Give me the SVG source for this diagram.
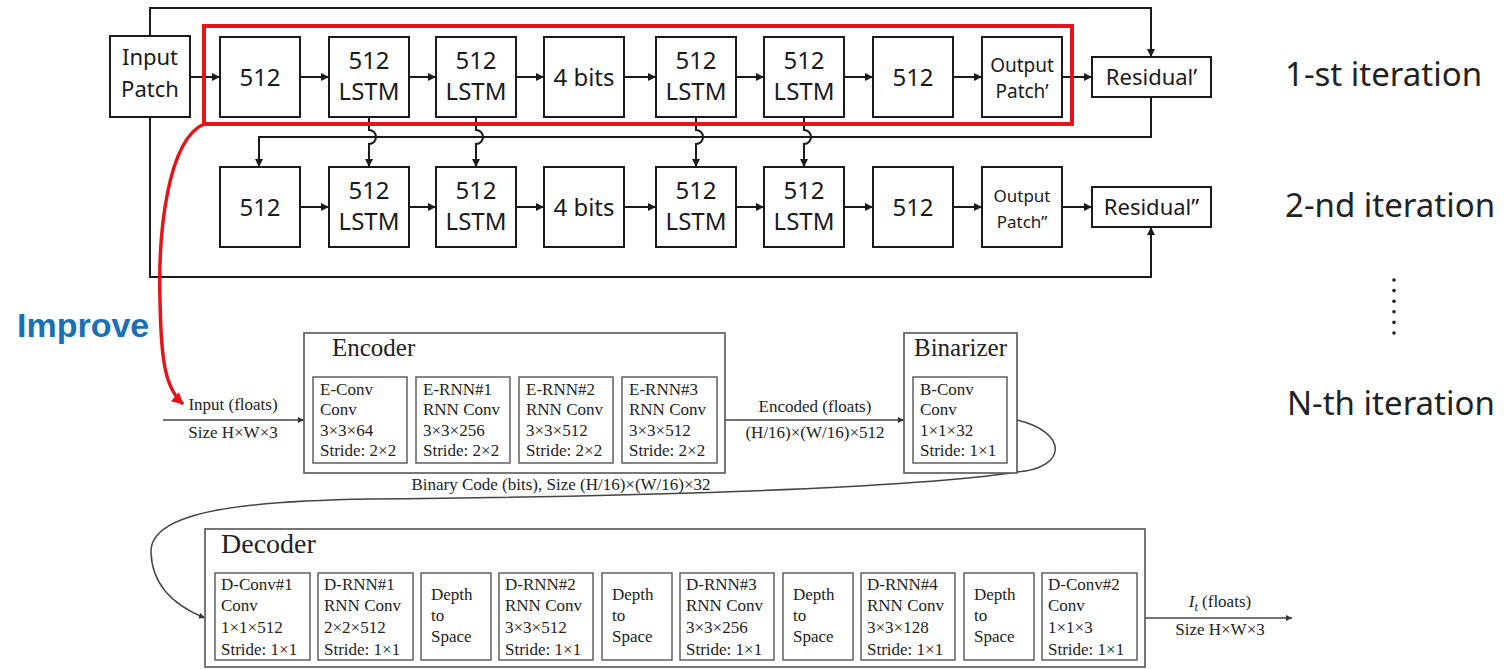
<svg xmlns="http://www.w3.org/2000/svg" width="1504" height="669" viewBox="0 0 1504 669">
<style>
.bx{fill:#fff;stroke:#1a1a1a;stroke-width:2}
.t{font-family:"Noto Sans","Open Sans",sans-serif;fill:#1a1a1a;text-anchor:middle}
.t24{font-size:24px}
.t22{font-size:22px}
.it{font-family:"Noto Sans","Open Sans",sans-serif;font-size:33px;fill:#222}
.ln{fill:none;stroke:#1a1a1a;stroke-width:2}
.gb{fill:#fff;stroke:#555;stroke-width:1.6}
.gi{fill:#fff;stroke:#555;stroke-width:1.4}
.s{font-family:"Liberation Serif","Times New Roman",serif;font-size:17px;fill:#222}
.sm{text-anchor:middle}
.ttl{font-family:"Liberation Serif","Times New Roman",serif;fill:#222}
.gl{fill:none;stroke:#444;stroke-width:1.5}
</style>
<defs>
<marker id="ah" viewBox="0 0 10 10" refX="10" refY="5" markerWidth="9" markerHeight="8" markerUnits="userSpaceOnUse" orient="auto"><path d="M0,0 L10,5 L0,10 z" fill="#1a1a1a"/></marker>
<marker id="ahs" viewBox="0 0 10 10" refX="10" refY="5" markerWidth="8" markerHeight="6" markerUnits="userSpaceOnUse" orient="auto"><path d="M0,0 L10,5 L0,10 z" fill="#333"/></marker>
<marker id="ahr" viewBox="0 0 10 10" refX="9" refY="5" markerWidth="14" markerHeight="12" markerUnits="userSpaceOnUse" orient="auto"><path d="M0,0 L10,5 L0,10 z" fill="#e3151a"/></marker>
</defs>

<g id="connectors">
<path class="ln" d="M150,36 V8 H1151 V57" marker-end="url(#ah)"/>
<path class="ln" d="M150,117 V277 H1151 V227" marker-end="url(#ah)"/>
<path class="ln" d="M1151,97 V137 H259 V167" marker-end="url(#ah)"/>
<path class="ln" d="M369,117 V130 A7,7 0 0 1 369,144 V167" marker-end="url(#ah)"/>
<path class="ln" d="M476,117 V130 A7,7 0 0 1 476,144 V167" marker-end="url(#ah)"/>
<path class="ln" d="M696,117 V130 A7,7 0 0 1 696,144 V167" marker-end="url(#ah)"/>
<path class="ln" d="M804,117 V130 A7,7 0 0 1 804,144 V167" marker-end="url(#ah)"/>
<path class="ln" d="M190,77 H220" marker-end="url(#ah)"/>
<path class="ln" d="M300,77 H329" marker-end="url(#ah)"/>
<path class="ln" d="M409,77 H436" marker-end="url(#ah)"/>
<path class="ln" d="M516,77 H544" marker-end="url(#ah)"/>
<path class="ln" d="M624,77 H656" marker-end="url(#ah)"/>
<path class="ln" d="M736,77 H764" marker-end="url(#ah)"/>
<path class="ln" d="M844,77 H873" marker-end="url(#ah)"/>
<path class="ln" d="M953,77 H982" marker-end="url(#ah)"/>
<path class="ln" d="M1062,77 H1092" marker-end="url(#ah)"/>
<path class="ln" d="M300,207 H329" marker-end="url(#ah)"/>
<path class="ln" d="M409,207 H436" marker-end="url(#ah)"/>
<path class="ln" d="M516,207 H544" marker-end="url(#ah)"/>
<path class="ln" d="M624,207 H656" marker-end="url(#ah)"/>
<path class="ln" d="M736,207 H764" marker-end="url(#ah)"/>
<path class="ln" d="M844,207 H873" marker-end="url(#ah)"/>
<path class="ln" d="M953,207 H982" marker-end="url(#ah)"/>
<path class="ln" d="M1062,207 H1092" marker-end="url(#ah)"/>
<path d="M204,124 C168,140 158,230 160,300 C161,360 165,388 183,404" fill="none" stroke="#e3151a" stroke-width="3.5" marker-end="url(#ahr)"/>
<path class="gl" d="M163,420 H304" marker-end="url(#ahs)"/>
<path class="gl" d="M725,420 H904" marker-end="url(#ahs)"/>
<path class="gl" d="M1017,420 C1068,432 1068,468 1017,472 C900,490 600,497 370,499 C250,501 150,510 151,552 C152,590 180,608 205,618" marker-end="url(#ahs)"/>
<path class="gl" d="M1145,618 H1292" marker-end="url(#ahs)"/>
</g>

<g id="input-patch"><rect class="bx" x="110" y="36" width="80" height="81"/><text class="t t22" x="150" y="65">Input</text><text class="t t22" x="150" y="97">Patch</text></g>

<g id="r1-fc1"><rect class="bx" x="220" y="37" width="80" height="80"/><text class="t t24" x="260" y="86">512</text></g>
<g id="r1-lstm1"><rect class="bx" x="329" y="37" width="80" height="80"/><text class="t t24" x="369" y="69">512</text><text class="t t24" x="369" y="100">LSTM</text></g>
<g id="r1-lstm2"><rect class="bx" x="436" y="37" width="80" height="80"/><text class="t t24" x="476" y="69">512</text><text class="t t24" x="476" y="100">LSTM</text></g>
<g id="r1-bits"><rect class="bx" x="544" y="37" width="80" height="80"/><text class="t t24" x="584" y="86">4 bits</text></g>
<g id="r1-lstm3"><rect class="bx" x="656" y="37" width="80" height="80"/><text class="t t24" x="696" y="69">512</text><text class="t t24" x="696" y="100">LSTM</text></g>
<g id="r1-lstm4"><rect class="bx" x="764" y="37" width="80" height="80"/><text class="t t24" x="804" y="69">512</text><text class="t t24" x="804" y="100">LSTM</text></g>
<g id="r1-fc2"><rect class="bx" x="873" y="37" width="80" height="80"/><text class="t t24" x="913" y="86">512</text></g>
<g id="r1-out"><rect class="bx" x="982" y="37" width="80" height="80"/><text class="t" font-size="19" x="1022" y="72">Output</text><text class="t" font-size="19" x="1022" y="98">Patch’</text></g>
<g id="r1-res"><rect class="bx" x="1092" y="57" width="119" height="40"/><text class="t t22" x="1151.5" y="85">Residual’</text></g>

<g id="r2-fc1"><rect class="bx" x="220" y="167" width="80" height="80"/><text class="t t24" x="260" y="216">512</text></g>
<g id="r2-lstm1"><rect class="bx" x="329" y="167" width="80" height="80"/><text class="t t24" x="369" y="199">512</text><text class="t t24" x="369" y="230">LSTM</text></g>
<g id="r2-lstm2"><rect class="bx" x="436" y="167" width="80" height="80"/><text class="t t24" x="476" y="199">512</text><text class="t t24" x="476" y="230">LSTM</text></g>
<g id="r2-bits"><rect class="bx" x="544" y="167" width="80" height="80"/><text class="t t24" x="584" y="216">4 bits</text></g>
<g id="r2-lstm3"><rect class="bx" x="656" y="167" width="80" height="80"/><text class="t t24" x="696" y="199">512</text><text class="t t24" x="696" y="230">LSTM</text></g>
<g id="r2-lstm4"><rect class="bx" x="764" y="167" width="80" height="80"/><text class="t t24" x="804" y="199">512</text><text class="t t24" x="804" y="230">LSTM</text></g>
<g id="r2-fc2"><rect class="bx" x="873" y="167" width="80" height="80"/><text class="t t24" x="913" y="216">512</text></g>
<g id="r2-out"><rect class="bx" x="982" y="167" width="80" height="80"/><text class="t" font-size="17" x="1022" y="202">Output</text><text class="t" font-size="17" x="1022" y="228">Patch”</text></g>
<g id="r2-res"><rect class="bx" x="1092" y="187" width="119" height="40"/><text class="t t22" x="1151.5" y="215">Residual”</text></g>

<g id="highlight"><rect x="204" y="26" width="868" height="98" fill="none" stroke="#e3151a" stroke-width="4"/></g>

<g id="labels">
<text x="17" y="337" font-family="'Liberation Sans',Arial,sans-serif" font-weight="bold" font-size="34" fill="#1b70b5">Improve</text>
<text class="it" x="1285" y="86">1-st iteration</text>
<text class="it" x="1285" y="217">2-nd iteration</text>
<text class="it" x="1287" y="415">N-th iteration</text>
<g fill="#222"><circle cx="1394" cy="280" r="1.8"/><circle cx="1394" cy="290.6" r="1.8"/><circle cx="1394" cy="301.2" r="1.8"/><circle cx="1394" cy="311.8" r="1.8"/><circle cx="1394" cy="322.4" r="1.8"/><circle cx="1394" cy="333" r="1.8"/></g>
<text class="s sm" x="233" y="410">Input (floats)</text>
<text class="s sm" x="233" y="438">Size H×W×3</text>
<text class="s sm" x="815" y="412">Encoded (floats)</text>
<text class="s sm" x="815" y="438">(H/16)×(W/16)×512</text>
<text class="s sm" x="561" y="490">Binary Code (bits), Size (H/16)×(W/16)×32</text>
<text class="s sm" x="1220" y="607"><tspan font-style="italic">I</tspan><tspan font-style="italic" font-size="12" dy="4">t</tspan><tspan dy="-4"> (floats)</tspan></text>
<text class="s sm" x="1220" y="635">Size H×W×3</text>
</g>

<g id="encoder">
<rect class="gb" x="304" y="333" width="421" height="140"/>
<text class="ttl" font-size="25" x="332" y="356">Encoder</text>
</g>
<g id="e-conv"><rect class="gi" x="313" y="377" width="94" height="86"/><text class="s" x="320" y="395">E-Conv</text><text class="s" x="320" y="415">Conv</text><text class="s" x="320" y="436">3×3×64</text><text class="s" x="320" y="456">Stride: 2×2</text></g>
<g id="e-rnn1"><rect class="gi" x="416" y="377" width="94" height="86"/><text class="s" x="423" y="395">E-RNN#1</text><text class="s" x="423" y="415">RNN Conv</text><text class="s" x="423" y="436">3×3×256</text><text class="s" x="423" y="456">Stride: 2×2</text></g>
<g id="e-rnn2"><rect class="gi" x="519" y="377" width="94" height="86"/><text class="s" x="526" y="395">E-RNN#2</text><text class="s" x="526" y="415">RNN Conv</text><text class="s" x="526" y="436">3×3×512</text><text class="s" x="526" y="456">Stride: 2×2</text></g>
<g id="e-rnn3"><rect class="gi" x="622" y="377" width="95" height="86"/><text class="s" x="629" y="395">E-RNN#3</text><text class="s" x="629" y="415">RNN Conv</text><text class="s" x="629" y="436">3×3×512</text><text class="s" x="629" y="456">Stride: 2×2</text></g>

<g id="binarizer">
<rect class="gb" x="904" y="333" width="113" height="140"/>
<text class="ttl" font-size="25" x="914" y="356">Binarizer</text>
<rect class="gi" x="913" y="377" width="94" height="86"/>
<text class="s" x="920" y="395">B-Conv</text><text class="s" x="920" y="415">Conv</text><text class="s" x="920" y="436">1×1×32</text><text class="s" x="920" y="456">Stride: 1×1</text>
</g>

<g id="decoder">
<rect class="gb" x="205" y="529" width="940" height="138"/>
<text class="ttl" font-size="28" x="221" y="553">Decoder</text>
</g>
<g id="d-conv1"><rect class="gi" x="215" y="573" width="95" height="87"/><text class="s" x="221" y="590">D-Conv#1</text><text class="s" x="221" y="611">Conv</text><text class="s" x="221" y="633">1×1×512</text><text class="s" x="221" y="655">Stride: 1×1</text></g>
<g id="d-rnn1"><rect class="gi" x="318" y="573" width="95" height="87"/><text class="s" x="324" y="590">D-RNN#1</text><text class="s" x="324" y="611">RNN Conv</text><text class="s" x="324" y="633">2×2×512</text><text class="s" x="324" y="655">Stride: 1×1</text></g>
<g id="d2s1"><rect class="gi" x="421" y="573" width="70" height="87"/><text class="s" x="431" y="600">Depth</text><text class="s" x="431" y="621">to</text><text class="s" x="431" y="642">Space</text></g>
<g id="d-rnn2"><rect class="gi" x="499" y="573" width="94" height="87"/><text class="s" x="505" y="590">D-RNN#2</text><text class="s" x="505" y="611">RNN Conv</text><text class="s" x="505" y="633">3×3×512</text><text class="s" x="505" y="655">Stride: 1×1</text></g>
<g id="d2s2"><rect class="gi" x="602" y="573" width="70" height="87"/><text class="s" x="612" y="600">Depth</text><text class="s" x="612" y="621">to</text><text class="s" x="612" y="642">Space</text></g>
<g id="d-rnn3"><rect class="gi" x="680" y="573" width="94" height="87"/><text class="s" x="686" y="590">D-RNN#3</text><text class="s" x="686" y="611">RNN Conv</text><text class="s" x="686" y="633">3×3×256</text><text class="s" x="686" y="655">Stride: 1×1</text></g>
<g id="d2s3"><rect class="gi" x="783" y="573" width="70" height="87"/><text class="s" x="793" y="600">Depth</text><text class="s" x="793" y="621">to</text><text class="s" x="793" y="642">Space</text></g>
<g id="d-rnn4"><rect class="gi" x="861" y="573" width="94" height="87"/><text class="s" x="867" y="590">D-RNN#4</text><text class="s" x="867" y="611">RNN Conv</text><text class="s" x="867" y="633">3×3×128</text><text class="s" x="867" y="655">Stride: 1×1</text></g>
<g id="d2s4"><rect class="gi" x="964" y="573" width="70" height="87"/><text class="s" x="974" y="600">Depth</text><text class="s" x="974" y="621">to</text><text class="s" x="974" y="642">Space</text></g>
<g id="d-conv2"><rect class="gi" x="1042" y="573" width="95" height="87"/><text class="s" x="1048" y="590">D-Conv#2</text><text class="s" x="1048" y="611">Conv</text><text class="s" x="1048" y="633">1×1×3</text><text class="s" x="1048" y="655">Stride: 1×1</text></g>
</svg>
